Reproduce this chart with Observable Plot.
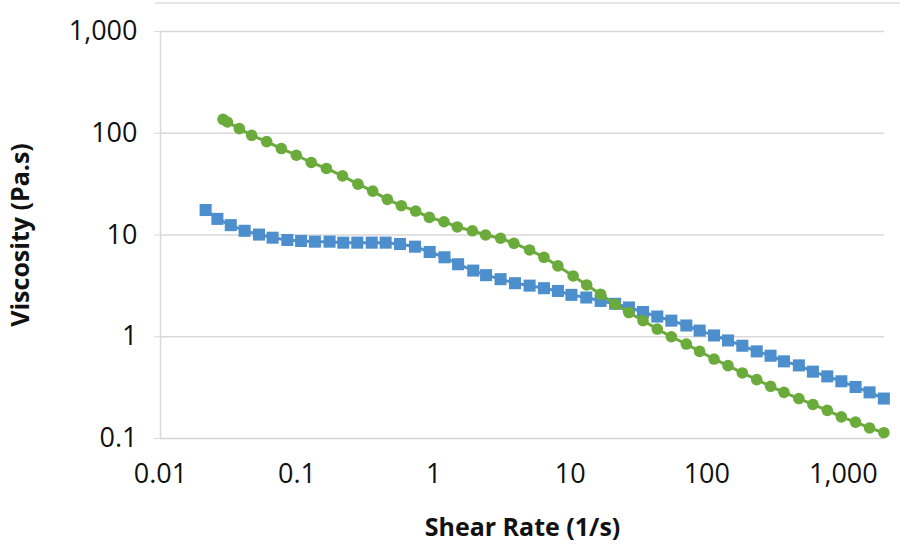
<!DOCTYPE html>
<html><head><meta charset="utf-8">
<script src="https://cdn.jsdelivr.net/npm/d3@7"></script>
<script src="https://cdn.jsdelivr.net/npm/@observablehq/plot@0.6"></script>
<style>
body{margin:0;background:#fff;}
#wrap{position:relative;width:900px;height:550px;}
#topline{position:absolute;left:155px;top:2px;width:745px;height:2px;background:#e6e6e6;}
</style></head><body><div id="wrap"><div id="topline"></div></div>
<script>
const shearRateBlue = [0.0214,0.0261,0.0327,0.0413,0.0526,0.0662,0.0849,0.107,0.135,0.173,0.218,0.276,0.352,0.445,0.567,0.730,0.935,1.20,1.51,1.95,2.42,3.09,3.94,5.04,6.42,8.12,10.2,13.1,16.7,21.3,26.9,34.1,43.4,55.0,70.8,88.6,113,143,182,232,293,367,472,598,762,966,1228,1555,1979];
const viscosityBlue = [17.6,14.4,12.5,11.0,10.1,9.41,8.93,8.74,8.60,8.60,8.41,8.41,8.41,8.41,8.16,7.68,6.81,6.04,5.16,4.47,4.03,3.68,3.36,3.18,3.00,2.82,2.58,2.43,2.25,2.11,1.94,1.75,1.58,1.44,1.29,1.15,1.03,0.92,0.816,0.718,0.651,0.573,0.523,0.454,0.408,0.365,0.321,0.284,0.247];
const shearRateGreen = [0.0287,0.0309,0.0378,0.0465,0.0599,0.0767,0.0988,0.127,0.164,0.215,0.279,0.358,0.458,0.580,0.738,0.930,1.19,1.49,1.92,2.40,3.09,3.87,5.04,6.42,8.12,10.5,13.2,16.7,21.3,26.9,34.1,43.4,55.0,70.8,88.6,113,143,182,232,293,367,472,598,762,966,1228,1555,1979];
const viscosityGreen = [137,129,111,95.5,82.8,70.7,60.8,51.6,45.1,38.1,31.6,27.0,22.4,19.4,17.2,14.9,13.5,12.0,11.0,10.0,9.29,8.29,7.13,6.04,4.97,3.96,3.23,2.62,2.09,1.73,1.44,1.19,1.0,0.848,0.718,0.604,0.520,0.441,0.379,0.326,0.284,0.247,0.216,0.189,0.163,0.145,0.127,0.114];
const xTicks = [0.01,0.1,1,10,100,1000];
const yTicks = [0.1,1,10,100,1000];
const xLabel = "Shear Rate (1/s)";
const yLabel = "Viscosity (Pa.s)";

const BLUE = "#4d8fcd", GREEN = "#6aab3c";
const blue = shearRateBlue.map((x,i)=>({x, y: viscosityBlue[i]}));
const green = shearRateGreen.map((x,i)=>({x, y: viscosityGreen[i]}));
const fmt = d3.format(",");

const chart = Plot.plot({
  width: 900, height: 550,
  marginTop: 31, marginBottom: 112, marginLeft: 160, marginRight: 16,
  style: {fontFamily: "'Open Sans', sans-serif", background: "#fff", color: "#111", overflow: "visible"},
  x: {type: "log", domain: [0.01, 2000]},
  y: {type: "log", domain: [0.1, 1000]},
  marks: [
    Plot.gridY([1,10,100,1000], {stroke: "#d9d9d9", strokeOpacity: 1, strokeWidth: 1.5}),
    Plot.ruleX([0.01], {stroke: "#d9d9d9", strokeWidth: 1.5}),
    Plot.ruleY([0.1], {stroke: "#d4d4d4", strokeWidth: 1.5}),
    Plot.axisY(yTicks, {tickSize: 6, stroke: "#d9d9d9", tickPadding: 17, tickFormat: fmt, fontSize: 27, fill: "#111", label: null}),
    Plot.axisX(xTicks, {tickSize: 0, tickPadding: 25, tickFormat: fmt, fontSize: 27, fill: "#111", label: null}),
    Plot.line(blue, {x: "x", y: "y", stroke: BLUE, strokeWidth: 3}),
    Plot.dot(blue, {x: "x", y: "y", symbol: "square", r: 6.8, fill: BLUE}),
    Plot.line(green, {x: "x", y: "y", stroke: GREEN, strokeWidth: 3}),
    Plot.dot(green, {x: "x", y: "y", r: 5.8, fill: GREEN}),
    Plot.text([xLabel], {frameAnchor: "bottom", textAnchor: "middle", dy: 97, fontSize: 25, fontWeight: "bold", fill: "#111"}),
    Plot.text([yLabel], {frameAnchor: "left", textAnchor: "middle", rotate: -90, dx: -140, fontSize: 25, fontWeight: "bold", fill: "#111"})
  ]
});
document.getElementById("wrap").appendChild(chart);
</script></body></html>
